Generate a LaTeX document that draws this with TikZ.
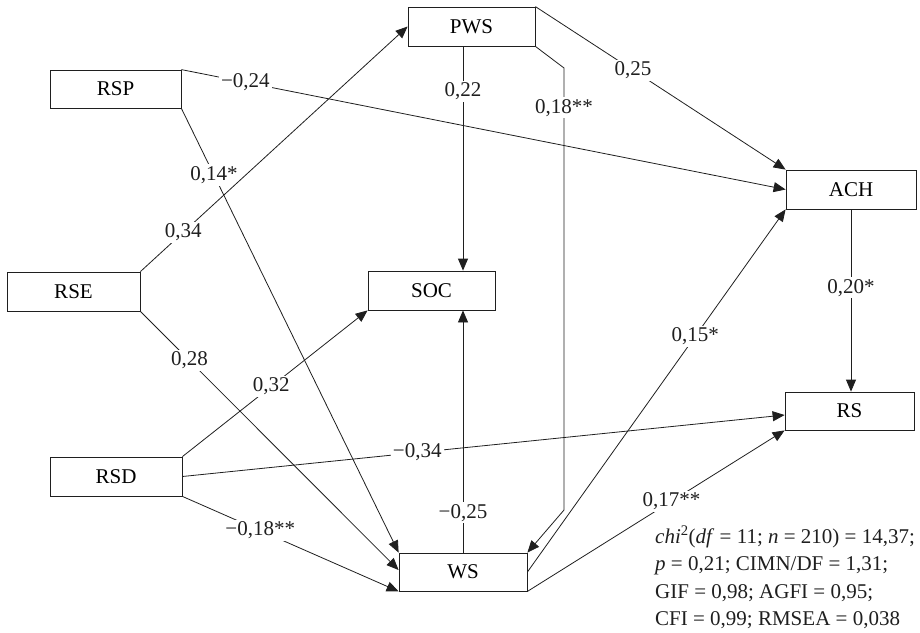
\documentclass[tikz,border=0pt]{standalone}
\usepackage{fontspec}
\setmainfont{Liberation Serif}
\usetikzlibrary{arrows.meta,positioning}
\definecolor{linegray}{gray}{0.12}

\begin{document}
\begin{tikzpicture}[
  x=1pt, y=-1pt,
  var/.style={draw=linegray, line width=0.8pt, minimum width=130pt, minimum height=38pt, inner sep=0pt, font=\fontsize{21}{25}\selectfont},
  coef/.style={fill=white, inner sep=2pt, font=\fontsize{21}{25}\selectfont, text=linegray},
  arr/.style={-{Triangle[length=12pt, width=10pt]}, line width=0.8pt, color=linegray},
]
  \useasboundingbox (0,0) rectangle (920,632);

  % exogenous variables
  \node[var, minimum width=131pt] (rsp) at (115.5,89) {RSP};
  \node[var, minimum width=133pt, minimum height=39pt] (rse) at (73.5,291.5) {RSE};
  \node[var, minimum width=132pt, minimum height=39pt] (rsd) at (116,476.5) {RSD};

  % mediators
  \node[var, minimum width=127pt, minimum height=39pt] (pws) at (471.5,26.5) {PWS};
  \node[var, minimum width=127pt, minimum height=39pt] (soc) at (431.5,290.5) {SOC};
  \node[var, minimum width=128pt] (ws) at (463,572) {WS};

  % outcomes
  \node[var, minimum height=39pt] (ach) at (851,189.5) {ACH};
  \node[var, minimum width=129pt] (rs) at (849.5,411) {RS};

  % bends of PWS -> WS
  \coordinate (pwsbend1) at (564,68);
  \coordinate (pwsbend2) at (564,510);

  \draw[arr] (rsp.north east) -- node[coef, pos=0.106] {−0,24} (ach.west);
  \draw[arr] (rsp.south east) -- node[coef, pos=0.15] {0,14*} (ws.north west);
  \draw[arr] (rse.north east) -- node[coef, pos=0.16] {0,34} (pws.west);
  \draw[arr] (rse.south east) -- node[coef, pos=0.19] {0,28} ([yshift=2pt]ws.west);
  \draw[arr] (rsd.north east) -- node[coef, pos=0.48] {0,32} (soc.south west);
  \draw[arr] (rsd.east) -- node[coef, pos=0.39] {−0,34} ([yshift=-4pt]rs.west);
  \draw[arr] (rsd.south east) -- node[coef, pos=0.36] {−0,18**} (ws.south west);

  \draw[arr] (pws.south -| ws.north) -- node[coef, pos=0.2] {0,22} (soc.north -| ws.north);
  \draw[arr] (pws.south east) -- (pwsbend1) -- node[coef, pos=0.09] {0,18**} (pwsbend2) -- (ws.north east);
  \draw[arr] (pws.north east) -- node[coef, pos=0.39] {0,25} (ach.north west);
  \draw[arr] (ws.north) -- node[coef, pos=0.165] {−0,25} (soc.south -| ws.north);
  \draw[arr] (ws.east) -- node[coef, pos=0.65] {0,15*} (ach.south west);
  \draw[arr] (ws.south east) -- node[coef, pos=0.56] {0,17**} (rs.south west);
  \draw[arr] (ach.south) -- node[coef, pos=0.43] {0,20*} (rs.north -| ach.south);

  % fit indices
  \node[anchor=north west, align=left, inner sep=0pt, text=linegray, font=\fontsize{21}{27.5}\selectfont] (fit) at (655,526) {
    \textit{chi}\textsuperscript{2}(\textit{df} = 11; \textit{n} = 210) = 14,37;\\
    \textit{p} = 0,21; CIMN/DF = 1,31;\\
    GIF = 0,98; AGFI = 0,95;\\
    CFI = 0,99; RMSEA = 0,038
  };
\end{tikzpicture}
\end{document}
